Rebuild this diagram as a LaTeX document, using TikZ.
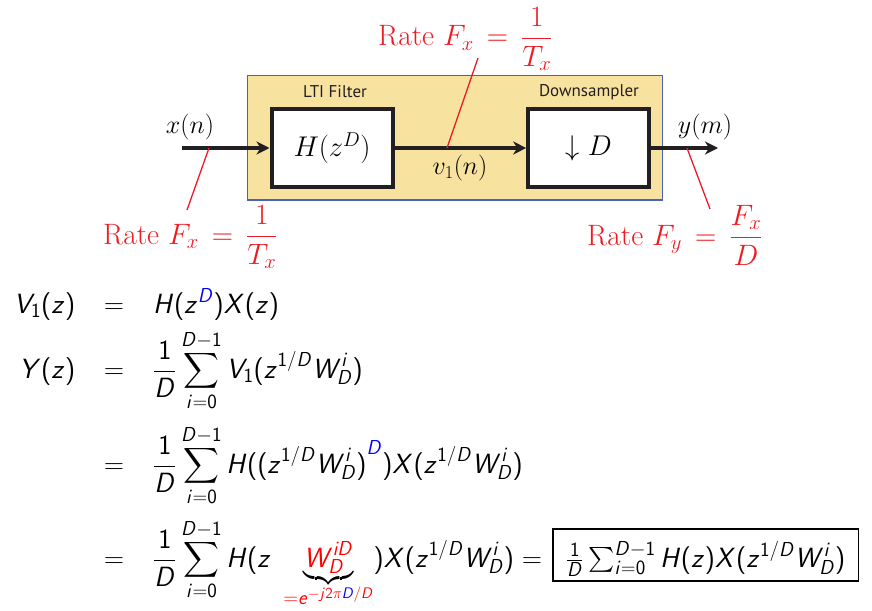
\RequirePackage{fix-cm}
\documentclass[tikz,border=0pt]{standalone}
\usepackage{exscale}
\usepackage[no-math]{fontspec}
\newfontfamily\ptsans{PT Sans}
\usetikzlibrary{arrows.meta}
\DeclareMathVersion{sans}
\SetSymbolFont{operators}{sans}{OT1}{cmss}{m}{n}
\SetSymbolFont{letters}{sans}{OT1}{cmss}{m}{sl}
\DeclareSymbolFont{cmletters}{OML}{cmm}{m}{it}
\DeclareMathSymbol{\sfpi}{\mathord}{cmletters}{"19}
\mathcode`\/="002F
\DeclareMathSizes{27.8}{27.8}{20.2}{15.3}
\definecolor{rateRed}{RGB}{237,28,36}
\definecolor{boxFill}{RGB}{247,226,160}
\definecolor{boxBlue}{RGB}{70,100,190}
\definecolor{eqred}{RGB}{255,0,0}
\definecolor{eqblue}{RGB}{0,0,255}
\definecolor{inkblack}{RGB}{35,31,32}
\tikzset{
  block/.style={draw=inkblack, line width=4pt, fill=white, minimum width=121pt,
    minimum height=77.5pt, inner sep=0pt, font=\fontsize{28.5}{34}\selectfont},
  sig/.style={draw=inkblack, line width=4pt, -{Stealth[length=13pt,width=13pt,inset=4pt]}},
  ratelbl/.style={text=rateRed, font=\fontsize{29.5}{35}\selectfont, inner sep=0pt},
  rateline/.style={draw=rateRed, line width=1.3pt},
  sigtxt/.style={font=\fontsize{26}{31}\selectfont, inner sep=0pt},
  blocktitle/.style={font=\ptsans\fontsize{17}{20}\selectfont, inner sep=0pt, text=inkblack},
  eqtxt/.style={font=\fontsize{27.8}{33}\selectfont\mathversion{sans}, inner sep=0pt},
}
\begin{document}
\begin{tikzpicture}[x=1pt,y=-1pt]
\useasboundingbox (0,0) rectangle (872,610);
% enclosing box
\draw[draw=boxBlue, fill=boxFill, line width=1.5pt] (247.5,75.5) rectangle (662.5,200);
\node[blocktitle] (ltit) at (335,92) {LTI Filter};
\node[blocktitle] (dtit) at (589,92) {Downsampler};
\node[block] (filt) at (332,148) {$H(z^D)$};
\node[block] (down) at (588.7,148) {$\downarrow D$};
\coordinate (xin) at (182,148);
\coordinate (yout) at (718,148);
\draw[sig] (xin) -- (filt.west);
\draw[sig] (filt.east) -- (down.west);
\draw[sig] (down.east) -- (yout);
\node[sigtxt] (xn) at (190,127) {$x(n)$};
\node[sigtxt] (ym) at (705,127) {$y(m)$};
\node[sigtxt] (vn) at (460,168) {$v_1(n)$};
% rate annotations
\coordinate (la) at (209,148); \coordinate (lb) at (187,210);
\coordinate (ma) at (447,148); \coordinate (mb) at (478,58);
\coordinate (ra) at (687,148); \coordinate (rb) at (710,209);
\draw[rateline] (la) -- (lb);
\draw[rateline] (ma) -- (mb);
\draw[rateline] (ra) -- (rb);
\node[ratelbl, anchor=base west] (rtop) at (378,46) {Rate $\displaystyle F_x\,=\,\frac{1}{T_x}$};
\node[ratelbl, anchor=base west] (rleft) at (103,244) {Rate $\displaystyle F_x\,=\,\frac{1}{T_x}$};
\node[ratelbl, anchor=base west] (rright) at (587,245) {Rate $\displaystyle F_y\,=\,\frac{F_x}{D}$};
% equations
\node[eqtxt, anchor=base east] (l1) at (75.5,313) {$V_1(z)$};
\node[eqtxt, anchor=base] (e1) at (114,313) {$=$};
\node[eqtxt, anchor=base west] (r1) at (153,313) {$H(z^{\textcolor{eqblue}{D}})X(z)$};
\node[eqtxt, anchor=base east] (l2) at (75.5,378) {$Y(z)$};
\node[eqtxt, anchor=base] (e2) at (114,378) {$=$};
\node[eqtxt, anchor=base west] (r2) at (153,378) {$\displaystyle\frac{1}{D}\sum_{i=0}^{D-1}V_1(z^{1/D}W_D^i)$};
\node[eqtxt, anchor=base] (e3) at (114,473) {$=$};
\node[eqtxt, anchor=base west] (r3) at (153,473) {$\displaystyle\frac{1}{D}\sum_{i=0}^{D-1}H({(z^{1/D}W_D^i)}^{\textcolor{eqblue}{D}})X(z^{1/D}W_D^i)$};
\node[eqtxt, anchor=base] (e4) at (114,567) {$=$};
\node[eqtxt, anchor=base west] (r4) at (153,567) {$\displaystyle\frac{1}{D}\sum_{i=0}^{D-1}H(z\;\underbrace{\textcolor{eqred}{W_D^{iD}}}_{\textcolor{eqred}{=e^{-j2\sfpi\textcolor{eqblue}{D}/D}}})X(z^{1/D}W_D^i)=$};
\node[eqtxt, anchor=base west, draw=black, line width=1.2pt, inner xsep=13pt, inner ysep=0pt, text height=38pt, text depth=14pt] (res) at ([xshift=10pt]r4.base east) {$\frac{1}{D}\sum_{i=0}^{D-1}H(z)X(z^{1/D}W_D^i)$};
\end{tikzpicture}
\end{document}
